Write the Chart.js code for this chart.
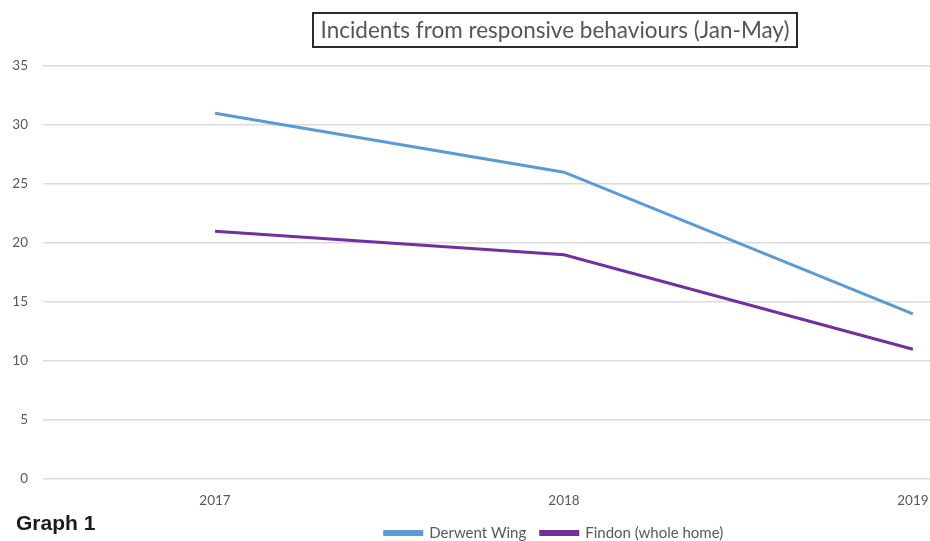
<!DOCTYPE html>
<html>
<head>
<meta charset="utf-8">
<script src="https://cdn.jsdelivr.net/npm/chart.js@4.4.1/dist/chart.umd.min.js"></script>
<style>
  html, body { margin: 0; padding: 0; background: #ffffff; }
  #wrap { position: relative; width: 930px; height: 541px; overflow: hidden; }
  #chart { position: absolute; left: 0; top: 0; }
  #title {
    position: absolute; left: 312px; top: 12px; width: 482px; height: 32px;
    border: 2px solid #2b2b2b; box-sizing: content-box;
    font-family: Lato, "Open Sans", sans-serif; font-size: 22.5px; color: #555555;
    line-height: 32px; text-align: center; white-space: nowrap;
  }
  #graphLabel {
    position: absolute; left: 16px; top: 511px;
    font-family: "Liberation Sans", Arial, sans-serif; font-weight: bold;
    font-size: 21px; color: #1a1a1a; line-height: 24px;
  }
</style>
</head>
<body>
<div id="wrap">
  <canvas id="chart" width="930" height="541"></canvas>
  <div id="title">Incidents from responsive behaviours (Jan-May)</div>
  <div id="graphLabel">Graph 1</div>
</div>
<script>
const categories = [2017, 2018, 2019];
const seriesNames = ["Derwent Wing", "Findon (whole home)"];
const derwentWing = [31, 26, 14];
const findon = [21, 19, 11];
const yTicks = [0, 5, 10, 15, 20, 25, 30, 35];

const toPoints = vals => categories.map((c, i) => ({ x: c, y: vals[i] }));
const FONT = 'Lato, "Open Sans", sans-serif';

// The reference's legend is centred under the (cropped) original plot, not the canvas
const legendShift = {
  id: 'legendShift',
  afterLayout(chart) {
    const lg = chart.legend;
    if (lg) { lg.left = 178; lg.right = chart.width; }
  }
};

new Chart(document.getElementById('chart'), {
  type: 'line',
  data: {
    datasets: [
      { label: seriesNames[0], data: toPoints(derwentWing), borderColor: '#5b9bd5', backgroundColor: '#5b9bd5',
        borderWidth: 3, pointRadius: 0, tension: 0, fill: false },
      { label: seriesNames[1], data: toPoints(findon), borderColor: '#7030a0', backgroundColor: '#7030a0',
        borderWidth: 3, pointRadius: 0, tension: 0, fill: false }
    ]
  },
  plugins: [legendShift],
  options: {
    responsive: false,
    animation: false,
    layout: { padding: { top: 66, right: 0, left: 0, bottom: -9.5 } },
    plugins: {
      title: { display: false },
      tooltip: { enabled: false },
      legend: {
        position: 'bottom',
        labels: {
          boxWidth: 37, boxHeight: 3, padding: 14.5,
          color: '#595959',
          font: { family: FONT, size: 15 }
        }
      }
    },
    scales: {
      x: {
        type: 'linear',
        min: 2016.507, max: 2019.049,
        grid: { display: false, drawTicks: false },
        border: { display: false },
        afterBuildTicks: axis => { axis.ticks = categories.map(v => ({ value: v })); },
        afterFit: s => { s.height = 32; s.paddingLeft = 0; s.paddingRight = 0; },
        ticks: {
          padding: 14,
          color: '#595959',
          font: { family: FONT, size: 13.5 },
          callback: v => String(v),
          maxRotation: 0
        }
      },
      y: {
        min: 0, max: 35,
        afterBuildTicks: axis => { axis.ticks = yTicks.map(v => ({ value: v })); },
        afterFit: s => { s.width = 43; },
        grid: { color: '#dcdcdc', lineWidth: 1.5, drawTicks: false },
        border: { display: false },
        ticks: {
          padding: 15,
          color: '#595959',
          font: { family: FONT, size: 13.5 }
        }
      }
    }
  }
});
</script>
</body>
</html>
